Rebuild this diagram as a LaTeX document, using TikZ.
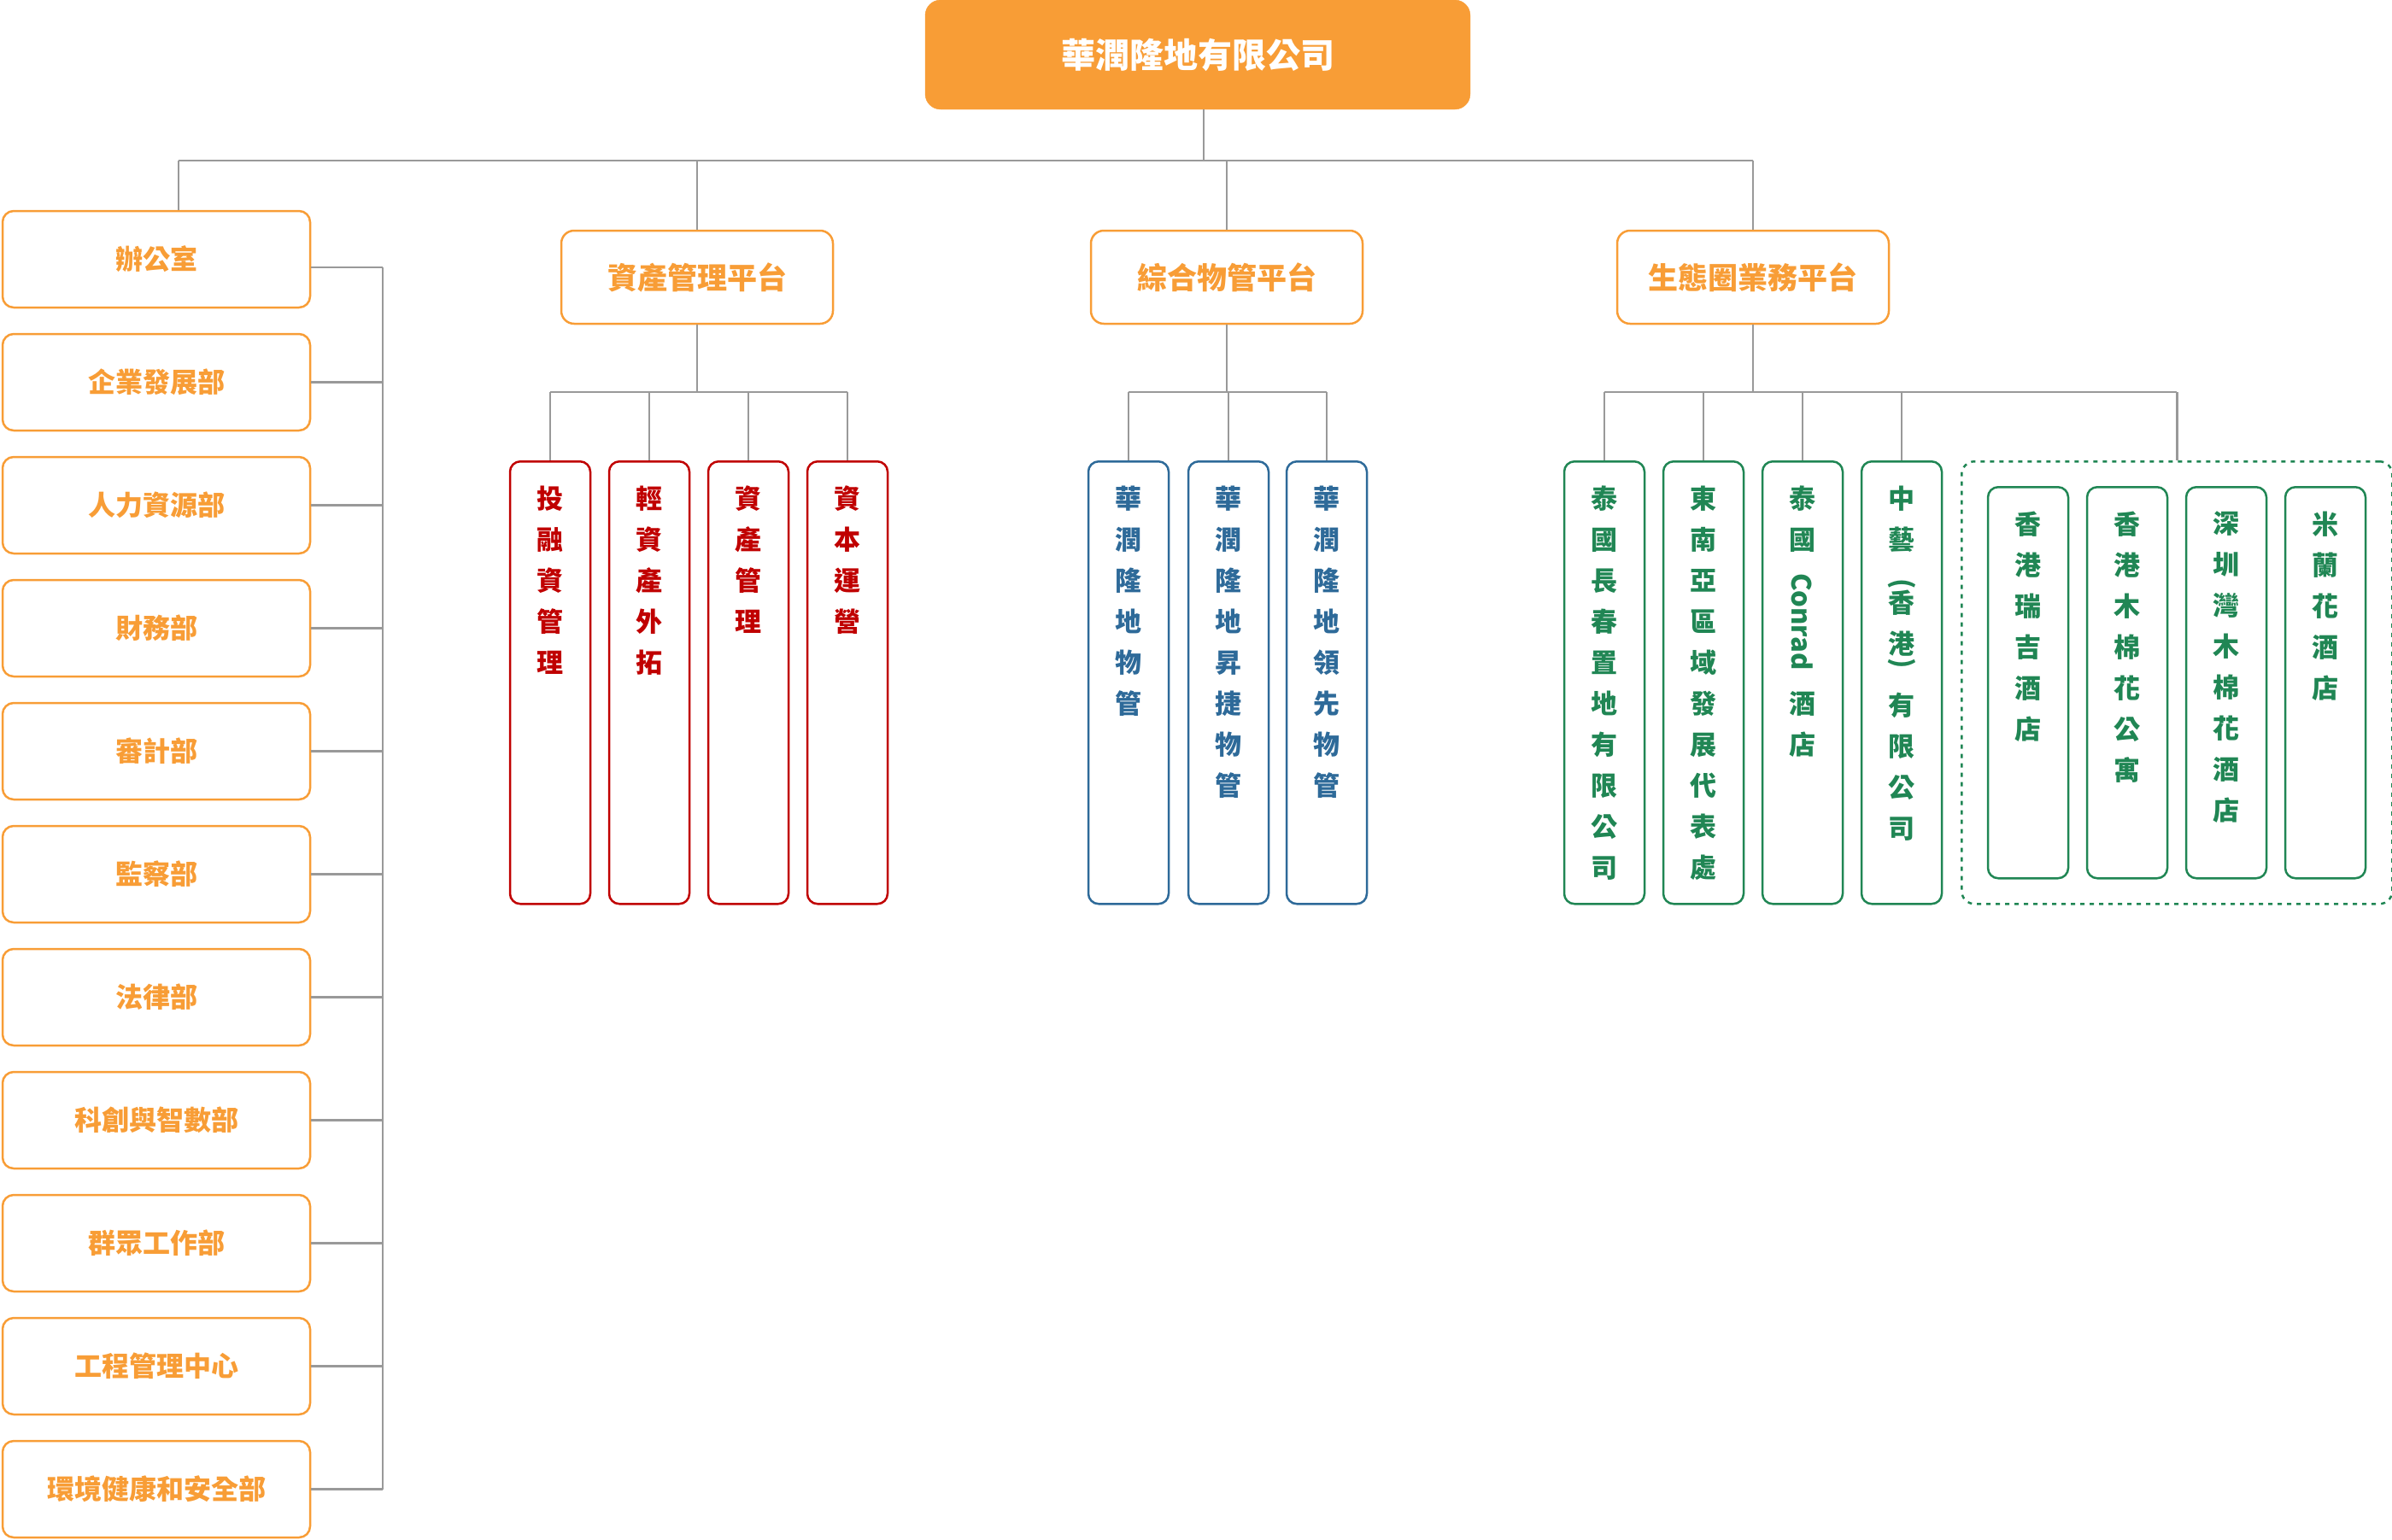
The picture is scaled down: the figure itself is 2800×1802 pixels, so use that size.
\documentclass[tikz,border=0pt]{standalone}
\usepackage{fontspec}
\setmainfont{Noto Sans CJK TC}
\usepackage{graphicx}
\definecolor{org}{RGB}{248,157,54}
\definecolor{lgray}{RGB}{153,153,153}
\definecolor{dred}{RGB}{192,0,0}
\definecolor{dblue}{RGB}{46,106,153}
\definecolor{dgreen}{RGB}{32,134,84}
\newcommand\fsz[1]{\fontsize{#1}{#1}\selectfont\bfseries}
\newcommand\vfnt{\fontsize{31}{48}\selectfont\bfseries\lineskiplimit=-100pt\relax}
\newcommand\rot[1]{\smash{\rotatebox[origin=c]{-90}{#1}}}
\tikzset{
  conn/.style={draw=lgray, line width=2.5pt},
  topbox/.style={fill=org, draw=org, rounded corners=18pt, minimum width=638pt, minimum height=128pt, inner sep=0pt, text=white, font=\fsz{40}},
  platbox/.style={draw=org, fill=white, line width=2.5pt, rounded corners=15pt, minimum width=318pt, minimum height=109pt, inner sep=0pt, text=org, font=\fsz{35}},
  leftbox/.style={draw=org, fill=white, line width=2.5pt, rounded corners=13pt, minimum width=360pt, minimum height=113pt, inner sep=0pt, text=org, font=\fsz{32}},
  vbox/.style={line width=2.5pt, rounded corners=12pt, minimum width=94pt, inner sep=0pt, anchor=north},
  vtext/.style={anchor=north, align=center, inner sep=0pt, font=\vfnt},
  groupbox/.style={draw=dgreen, line width=2.5pt, dash pattern=on 5pt off 6pt, rounded corners=15pt}
}
% #1 name, #2 x centre, #3 top y, #4 height, #5 colour, #6 text
\newcommand\vbx[6]{%
  \node[vbox, draw=#5, minimum height=#4pt] (#1) at (#2,#3) {};
  \node[vtext, text=#5] (#1t) at ([yshift=-30pt]#1.north) {#6};}

\begin{document}
\begin{tikzpicture}[x=1pt,y=-1pt]
\useasboundingbox (0,0) rectangle (2800,1802);

% top
\node[topbox] (top) at (1402,64) {華潤隆地有限公司};

% platforms
\node[platbox] (pA) at (816,324.5) {資產管理平台};
\node[platbox] (pB) at (1436,324.5) {綜合物管平台};
\node[platbox] (pC) at (2052,324.5) {生態圈業務平台};

% left departments
\node[leftbox] (d1)  at (183,303.5)  {辦公室};
\node[leftbox] (d2)  at (183,447.5)  {企業發展部};
\node[leftbox] (d3)  at (183,591.5)  {人力資源部};
\node[leftbox] (d4)  at (183,735.5)  {財務部};
\node[leftbox] (d5)  at (183,879.5)  {審計部};
\node[leftbox] (d6)  at (183,1023.5) {監察部};
\node[leftbox] (d7)  at (183,1167.5) {法律部};
\node[leftbox] (d8)  at (183,1311.5) {科創與智數部};
\node[leftbox] (d9)  at (183,1455.5) {群眾工作部};
\node[leftbox] (d10) at (183,1599.5) {工程管理中心};
\node[leftbox] (d11) at (183,1743.5) {環境健康和安全部};

% asset platform children
\vbx{r1}{644}{539}{518}{dred}{投\\融\\資\\管\\理}
\vbx{r2}{760}{539}{518}{dred}{輕\\資\\產\\外\\拓}
\vbx{r3}{876}{539}{518}{dred}{資\\產\\管\\理}
\vbx{r4}{992}{539}{518}{dred}{資\\本\\運\\營}

% property platform children
\vbx{b1}{1321}{539}{518}{dblue}{華\\潤\\隆\\地\\物\\管}
\vbx{b2}{1438}{539}{518}{dblue}{華\\潤\\隆\\地\\昇\\捷\\物\\管}
\vbx{b3}{1553}{539}{518}{dblue}{華\\潤\\隆\\地\\領\\先\\物\\管}

% ecosystem platform children
\vbx{g1}{1878}{539}{518}{dgreen}{泰\\國\\長\\春\\置\\地\\有\\限\\公\\司}
\vbx{g2}{1994}{539}{518}{dgreen}{東\\南\\亞\\區\\域\\發\\展\\代\\表\\處}
\vbx{g3}{2110}{539}{518}{dgreen}{泰\\國\\[48pt]\rot{Conrad}\\[48pt]酒\\店}
\vbx{g4}{2226}{539}{518}{dgreen}{中\\藝\\[2pt]\rot{(}\\[-24pt]香\\港\\[-27pt]\rot{)}\\[3pt]有\\限\\公\\司}

% hotels group
\node[groupbox, minimum width=504pt, minimum height=518pt, anchor=north west] (grp) at (2295,539) {};
\vbx{h1}{2374}{569}{458}{dgreen}{香\\港\\瑞\\吉\\酒\\店}
\vbx{h2}{2490}{569}{458}{dgreen}{香\\港\\木\\棉\\花\\公\\寓}
\vbx{h3}{2606}{569}{458}{dgreen}{深\\圳\\灣\\木\\棉\\花\\酒\\店}
\vbx{h4}{2722}{569}{458}{dgreen}{米\\蘭\\花\\酒\\店}

% connectors
\coordinate (busL) at (209,188);
\coordinate (busR) at (2052,188);
\coordinate (lbus) at (448,0);
\coordinate (sb) at (0,459);
\coordinate (topdrop) at ([xshift=7pt]top.south);
\coordinate (d1c) at ([yshift=-9.5pt]d1.east);

\draw[conn] (topdrop) -- (topdrop |- busL);
\draw[conn] (busL) -- (busR);
\draw[conn] (busL) -- (busL |- d1.north);
\foreach \p in {pA,pB,pC}{
  \draw[conn] (\p.north |- busL) -- (\p.north);
  \draw[conn] (\p.south) -- (\p.south |- sb);
}
% left column bus
\draw[conn] (d1c -| lbus) -- (d11.east -| lbus);
\draw[conn] (d1c) -- (d1c -| lbus);
\foreach \d in {d2,d3,d4,d5,d6,d7,d8,d9,d10,d11}{
  \draw[conn] (\d.east) -- (\d.east -| lbus);
}
% sub buses
\draw[conn] (r1.north |- sb) -- (r4.north |- sb);
\foreach \c in {r1,r2,r3,r4}{\draw[conn] (\c.north |- sb) -- (\c.north);}
\draw[conn] (b1.north |- sb) -- (b3.north |- sb);
\foreach \c in {b1,b2,b3}{\draw[conn] (\c.north |- sb) -- (\c.north);}
\draw[conn] (g1.north |- sb) -- (grp.north |- sb);
\foreach \c in {g1,g2,g3,g4,grp}{\draw[conn] (\c.north |- sb) -- (\c.north);}
\end{tikzpicture}
\end{document}
